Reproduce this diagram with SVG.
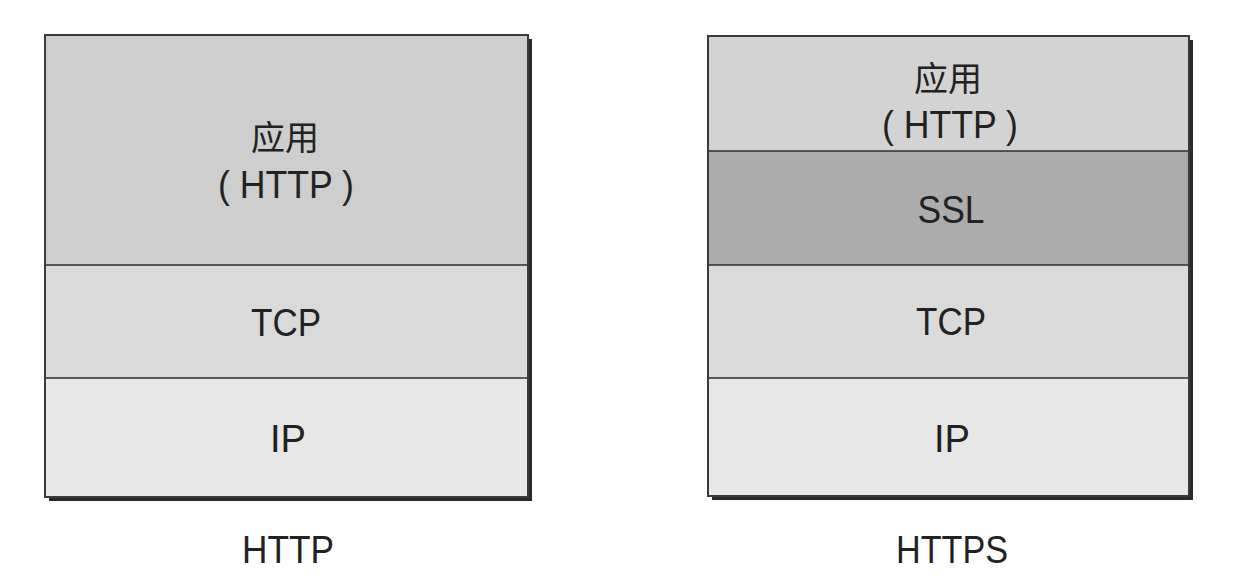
<svg xmlns="http://www.w3.org/2000/svg" width="1252" height="578" viewBox="0 0 1252 578">
  <style>
    .lbl { font-family: "Liberation Sans", Arial, "Noto Sans CJK SC", sans-serif; font-size: 38px; fill: #222; text-anchor: middle; }
    .cjk { font-family: "Noto Sans CJK SC", "Liberation Sans", sans-serif; font-size: 34px; fill: #222; text-anchor: middle; }
    .frame { fill: none; stroke: #3a3a3a; stroke-width: 2; }
    .shadow { fill: #2a2a2a; }
    .div { stroke: #2e2e2e; stroke-width: 1.6; }
    .app { fill: #cecece; }
    .app2 { fill: #d3d3d3; }
    .ssl { fill: #acacac; }
    .tcp { fill: #dadada; }
    .ip { fill: #e7e7e7; }
  </style>
  <rect width="1252" height="578" fill="#ffffff"/>

  <g id="http-stack">
    <rect class="shadow" x="49" y="39" width="483" height="462"/>
    <g id="http-app">
      <rect class="app" x="45" y="35" width="483" height="230"/>
      <text class="cjk" x="285" y="150">应用</text>
      <text class="lbl" x="286" y="198" textLength="136" lengthAdjust="spacingAndGlyphs">( HTTP )</text>
    </g>
    <g id="http-tcp">
      <rect class="tcp" x="45" y="265" width="483" height="113"/>
      <text class="lbl" x="286" y="336" textLength="70" lengthAdjust="spacingAndGlyphs">TCP</text>
    </g>
    <g id="http-ip">
      <rect class="ip" x="45" y="378" width="483" height="119"/>
      <text class="lbl" x="288" y="452" textLength="36" lengthAdjust="spacingAndGlyphs">IP</text>
    </g>
    <line class="div" x1="45" y1="265" x2="528" y2="265"/>
    <line class="div" x1="45" y1="378" x2="528" y2="378"/>
    <rect class="frame" x="45" y="35" width="483" height="462"/>
    <text id="http-caption" class="lbl" x="288" y="563" textLength="92" lengthAdjust="spacingAndGlyphs">HTTP</text>
  </g>

  <g id="https-stack">
    <rect class="shadow" x="712" y="40" width="481" height="460"/>
    <g id="https-app">
      <rect class="app2" x="708" y="36" width="481" height="115"/>
      <text class="cjk" x="948" y="91">应用</text>
      <text class="lbl" x="950" y="138" textLength="136" lengthAdjust="spacingAndGlyphs">( HTTP )</text>
    </g>
    <g id="https-ssl">
      <rect class="ssl" x="708" y="151" width="481" height="114"/>
      <text class="lbl" x="951" y="223" textLength="67" lengthAdjust="spacingAndGlyphs">SSL</text>
    </g>
    <g id="https-tcp">
      <rect class="tcp" x="708" y="265" width="481" height="113"/>
      <text class="lbl" x="951" y="335" textLength="70" lengthAdjust="spacingAndGlyphs">TCP</text>
    </g>
    <g id="https-ip">
      <rect class="ip" x="708" y="378" width="481" height="118"/>
      <text class="lbl" x="952" y="452" textLength="36" lengthAdjust="spacingAndGlyphs">IP</text>
    </g>
    <line class="div" x1="708" y1="151" x2="1189" y2="151"/>
    <line class="div" x1="708" y1="265" x2="1189" y2="265"/>
    <line class="div" x1="708" y1="378" x2="1189" y2="378"/>
    <rect class="frame" x="708" y="36" width="481" height="460"/>
    <text id="https-caption" class="lbl" x="952" y="563" textLength="112" lengthAdjust="spacingAndGlyphs">HTTPS</text>
  </g>

  <g id="connectors"></g>
</svg>
